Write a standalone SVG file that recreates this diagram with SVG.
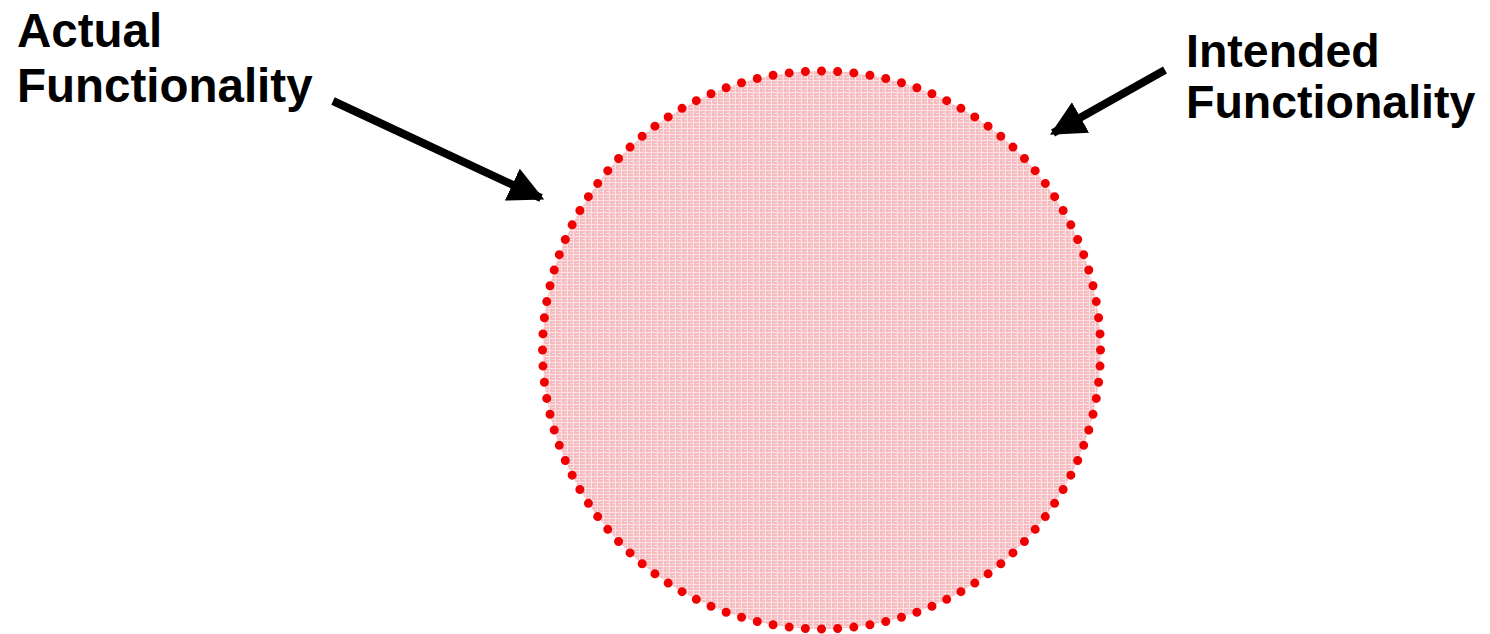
<svg xmlns="http://www.w3.org/2000/svg" width="1490" height="634" viewBox="0 0 1490 634">
  <style>
    .lbl { font-family: "Liberation Sans", Arial, sans-serif; font-weight: bold; fill: #000; }
    .arrow { stroke: #000; stroke-width: 8; fill: none; }
  </style>
  <defs>
    <pattern id="tex" width="6" height="6" patternUnits="userSpaceOnUse">
      <rect width="6" height="6" fill="#f8bcc0"/>
      <rect x="0" y="2" width="6" height="1" fill="#fde2e4"/>
      <rect x="3" y="0" width="1" height="6" fill="#fde2e4"/>
      <rect x="0" y="5" width="3" height="1" fill="#e4e2e6"/>
    </pattern>
    <marker id="ah" viewBox="0 0 10 10" refX="9" refY="5" markerWidth="4.4" markerHeight="4.4" orient="auto" markerUnits="strokeWidth">
      <path d="M0,0 L10,5 L0,10 z" fill="#000"/>
    </marker>
  </defs>
  <rect width="1490" height="634" fill="#fff"/>
  <g id="circle">
    <circle cx="821.5" cy="350" r="279" fill="url(#tex)"/>
    <circle cx="821.5" cy="350" r="279" fill="none" stroke="#f00000" stroke-width="9" stroke-linecap="round" stroke-dasharray="0 1" pathLength="108"/>
  </g>
  <g id="actual">
    <text class="lbl" x="17" y="47" font-size="47.5">Actual</text>
    <text class="lbl" x="17" y="102" font-size="47.5">Functionality</text>
  </g>
  <g id="intended">
    <text class="lbl" x="1186" y="67" font-size="46.5">Intended</text>
    <text class="lbl" x="1186" y="118" font-size="46.5">Functionality</text>
  </g>
  <g id="connectors">
    <line class="arrow" x1="333" y1="101" x2="541" y2="198" marker-end="url(#ah)"/>
    <line class="arrow" x1="1165" y1="70" x2="1053" y2="133" marker-end="url(#ah)"/>
  </g>
</svg>
